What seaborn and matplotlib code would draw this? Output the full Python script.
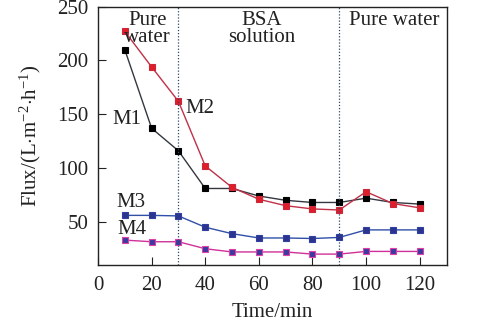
import matplotlib
matplotlib.use("Agg")
import matplotlib.pyplot as plt
import seaborn as sns
import pandas as pd

sns.set_theme(style="white")
plt.rcParams['font.family'] = ['Liberation Serif', 'DejaVu Serif']
plt.rcParams['mathtext.fontset'] = 'custom'
plt.rcParams['mathtext.rm'] = 'Liberation Serif'
plt.rcParams['mathtext.it'] = 'Liberation Serif:italic'

time = [10, 20, 30, 40, 50, 60, 70, 80, 90, 100, 110, 120]
m1 = [210, 137, 116, 81, 81, 74, 70, 68, 68, 72, 68, 66.5]
m2 = [227, 194, 162, 102, 82, 71, 65, 62, 61, 78, 67, 63]
m3 = [56, 56, 55.5, 45, 39, 35, 35, 34.5, 35.5, 42.5, 42.5, 42.5]
m4 = [33, 31.5, 31.5, 25, 22, 22, 22, 20, 20, 22.5, 22.5, 22.5]

series = {"M1": m1, "M2": m2, "M3": m3, "M4": m4}
styles = {
    "M1": dict(color="#333840", mfc="black", mec="black"),
    "M2": dict(color="#c03048", mfc="#e01e2a", mec="#c8283a"),
    "M3": dict(color="#3050a8", mfc="#2c3490", mec="#3040a0"),
    "M4": dict(color="#d0309a", mfc="#3a3aa0", mec="#e040a8"),
}

fig = plt.figure(figsize=(5, 3.34), dpi=100)
ax = fig.add_axes([0.196, 0.207, 0.697, 0.773])

for name, vals in series.items():
    df = pd.DataFrame({"Time": time, "Flux": vals})
    st = styles[name]
    sns.lineplot(data=df, x="Time", y="Flux", ax=ax, color=st["color"], lw=1.0,
                 marker="s", markersize=5, markerfacecolor=st["mfc"],
                 markeredgecolor=st["mec"], markeredgewidth=0.8)

for xv in [30, 90]:
    ax.axvline(xv, color="#2a4a6a", lw=0.9, ls=(0, (1, 1.5)))

fs = 15
ax.set_xlim(0, 130)
ax.set_ylim(10, 250)
ax.set_xticks([0, 20, 40, 60, 80, 100, 120])
ax.set_yticks([50, 100, 150, 200, 250])
ax.tick_params(direction="in", length=6, width=0.8, labelsize=fs, colors="#222222",
               left=True, bottom=True)
ax.tick_params(axis="x", pad=8)
ax.tick_params(axis="y", pad=7)
for s in ax.spines.values():
    s.set_color("#222222")
    s.set_linewidth(1.0)

ax.set_xlabel("Time/min", fontsize=fs, color="#222222", labelpad=6)
ax.set_ylabel(r"Flux/(L$\cdot$m$^{-2}$$\cdot$h$^{-1}$)", fontsize=fs, color="#222222", labelpad=10)

ax.text(18.5, 246, "Pure\nwater", ha="center", va="top", fontsize=fs, linespacing=0.85, color="#222222")
ax.text(61, 246, "BSA\nsolution", ha="center", va="top", fontsize=fs, linespacing=0.85, color="#222222")
ax.text(110.5, 246, "Pure water", ha="center", va="top", fontsize=fs, color="#222222")
ax.text(10.7, 145, "M1", ha="center", va="center", fontsize=fs, color="#222222")
ax.text(38, 155, "M2", ha="center", va="center", fontsize=fs, color="#222222")
ax.text(12.4, 68, "M3", ha="center", va="center", fontsize=fs, color="#222222")
ax.text(12.6, 42.5, "M4", ha="center", va="center", fontsize=fs, color="#222222")

fig.savefig("out.png", dpi=100)
